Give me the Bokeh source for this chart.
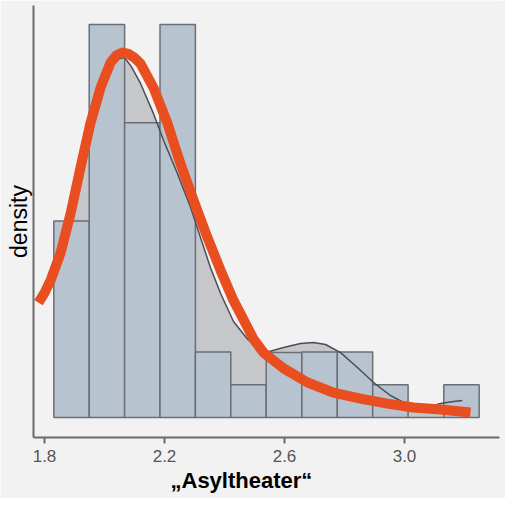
import numpy as np
from bokeh.plotting import figure
from bokeh.models import Range1d, FixedTicker, Title
from bokeh.embed import file_html
from bokeh.resources import INLINE

# ---- data ----
bin_edges = [1.831, 1.949, 2.067, 2.185, 2.303, 2.421, 2.539, 2.658, 2.776, 2.894, 3.012, 3.131, 3.249]
bin_counts = [6, 12, 9, 12, 2, 1, 2, 2, 2, 1, 0, 1]

kde_x = [1.83, 1.86, 1.893, 1.927, 1.96, 1.993, 2.027, 2.047, 2.067, 2.09, 2.12, 2.163, 2.197, 2.243,
         2.287, 2.32, 2.353, 2.387, 2.43, 2.477, 2.52, 2.547, 2.597, 2.653, 2.697, 2.737, 2.787,
         2.843, 2.897, 2.953, 2.997, 3.043, 3.087, 3.12, 3.163, 3.193]
kde_y = [0.735, 0.890, 1.097, 1.330, 1.548, 1.718, 1.822, 1.855, 1.863, 1.815, 1.729, 1.574, 1.434,
         1.263, 1.087, 0.932, 0.776, 0.642, 0.497, 0.405, 0.350, 0.340, 0.362, 0.383, 0.388, 0.378,
         0.336, 0.259, 0.181, 0.114, 0.078, 0.057, 0.057, 0.072, 0.083, 0.088]

fit_x = [1.78, 1.80, 1.82, 1.853, 1.887, 1.92, 1.953, 1.987, 2.02, 2.04, 2.06, 2.08, 2.10, 2.12,
         2.163, 2.21, 2.253, 2.297, 2.343, 2.387, 2.43, 2.477, 2.497, 2.53, 2.597, 2.677, 2.763,
         2.853, 2.943, 3.03, 3.12, 3.22]
fit_y = [0.595, 0.645, 0.709, 0.849, 1.056, 1.294, 1.522, 1.708, 1.837, 1.875, 1.889, 1.882, 1.862,
         1.832, 1.708, 1.522, 1.315, 1.123, 0.932, 0.761, 0.606, 0.466, 0.405, 0.336, 0.254, 0.181,
         0.129, 0.098, 0.072, 0.052, 0.041, 0.026]

x_ticks = [1.8, 2.2, 2.6, 3.0]
x_tick_labels = ["1.8", "2.2", "2.6", "3.0"]
x_title = "\u201eAsyltheater\u201c"
y_title = "density"

# ---- derived ----
edges = np.array(bin_edges)
counts = np.array(bin_counts, dtype=float)
widths = np.diff(edges)
dens = counts / (counts.sum() * widths)

BG = "#f2f2f2"
FONT = "Liberation Sans"

p = figure(width=505, height=498, output_backend="svg", toolbar_location=None,
           x_range=Range1d(1.7633, 3.3167), y_range=Range1d(-0.1035, 2.1325),
           min_border_left=33, min_border_right=6, min_border_top=5, min_border_bottom=61)
p.background_fill_color = BG
p.border_fill_color = BG
p.outline_line_color = None
p.grid.visible = False

p.varea(x=kde_x, y1=[0] * len(kde_x), y2=kde_y, fill_color="#c5c7ca")
p.quad(left=edges[:-1], right=edges[1:], bottom=0, top=dens,
       fill_color="#b7c3cf", line_color="#6a6f75", line_width=1.5)
p.line(kde_x, kde_y, line_color="#4a4f55", line_width=1.5, line_join="round")
p.line(fit_x, fit_y, line_color="#e84e1f", line_width=10, line_cap="butt", line_join="round")

# axes
xa = p.xaxis[0]
xa.ticker = FixedTicker(ticks=x_ticks)
xa.major_label_overrides = {t: l for t, l in zip(x_ticks, x_tick_labels)}
xa.minor_tick_line_color = None
xa.major_tick_in = 0
xa.major_tick_out = 6
xa.major_tick_line_width = 2
xa.major_tick_line_color = "#6b6b6b"
xa.axis_line_width = 2
xa.axis_line_color = "#6b6b6b"
xa.major_label_text_font = FONT
xa.major_label_text_font_size = "17px"
xa.major_label_text_color = "#555555"
xa.major_label_standoff = 6

ya = p.yaxis[0]
ya.ticker = FixedTicker(ticks=[])
ya.major_tick_line_color = None
ya.minor_tick_line_color = None
ya.major_tick_in = 0
ya.major_tick_out = 0
ya.major_label_standoff = 0
ya.axis_line_width = 2
ya.axis_line_color = "#6b6b6b"
ya.axis_label = y_title
ya.axis_label_text_font = FONT
ya.axis_label_text_font_size = "23px"
ya.axis_label_text_font_style = "normal"
ya.axis_label_text_color = "#000000"
ya.axis_label_standoff = 2

p.add_layout(Title(text=x_title, align="left", offset=137, standoff=3,
                   text_font=FONT, text_font_size="22px", text_font_style="bold",
                   text_color="#000000"), "below")

open("out.html", "w").write(file_html(p, INLINE))
